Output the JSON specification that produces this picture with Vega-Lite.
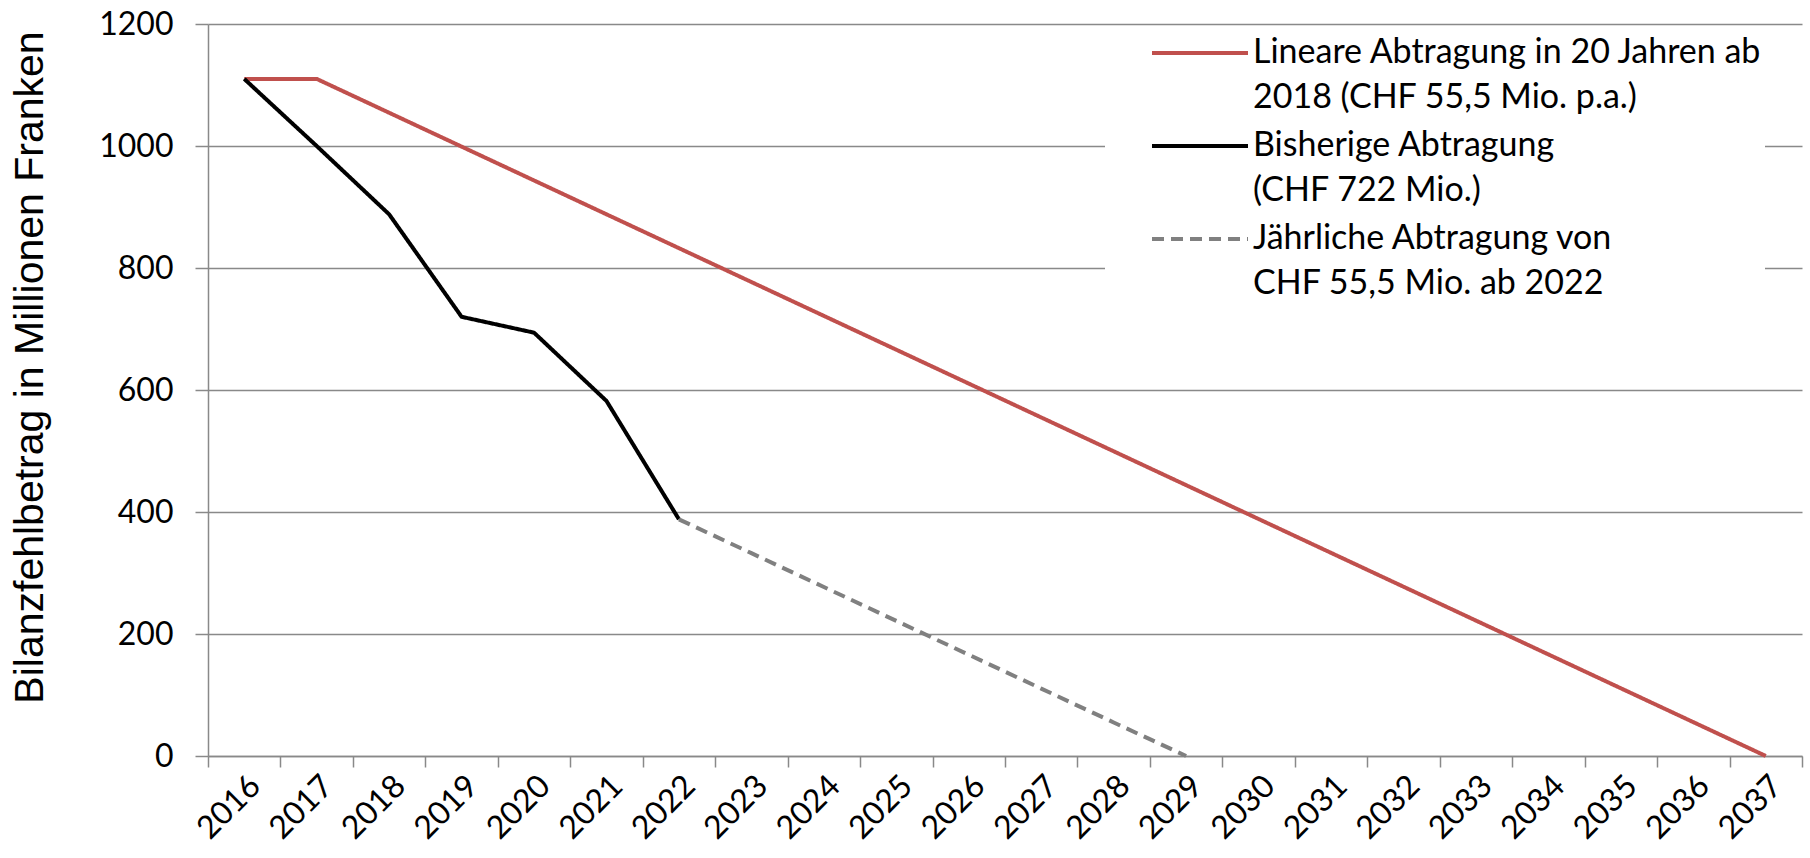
{
  "$schema": "https://vega.github.io/schema/vega-lite/v6.json",
  "width": 1594,
  "height": 732,
  "autosize": {"type": "none"},
  "padding": {"left": 208, "top": 24, "right": 8, "bottom": 102},
  "background": "white",
  "config": {
    "view": {"stroke": null},
    "axis": {"labelFont": "Lato", "labelFontSize": 32, "labelColor": "#000000", "domainColor": "#898989", "tickColor": "#898989", "domainWidth": 1.5, "tickWidth": 1.5, "gridColor": "#898989", "gridWidth": 1.5}
  },
  "data": {
    "values": [
      {"year": "2016", "value": 1110, "series": "S1"},
      {"year": "2017", "value": 1110, "series": "S1"},
      {"year": "2018", "value": 1054.5, "series": "S1"},
      {"year": "2019", "value": 999, "series": "S1"},
      {"year": "2020", "value": 943.5, "series": "S1"},
      {"year": "2021", "value": 888, "series": "S1"},
      {"year": "2022", "value": 832.5, "series": "S1"},
      {"year": "2023", "value": 777, "series": "S1"},
      {"year": "2024", "value": 721.5, "series": "S1"},
      {"year": "2025", "value": 666, "series": "S1"},
      {"year": "2026", "value": 610.5, "series": "S1"},
      {"year": "2027", "value": 555, "series": "S1"},
      {"year": "2028", "value": 499.5, "series": "S1"},
      {"year": "2029", "value": 444, "series": "S1"},
      {"year": "2030", "value": 388.5, "series": "S1"},
      {"year": "2031", "value": 333, "series": "S1"},
      {"year": "2032", "value": 277.5, "series": "S1"},
      {"year": "2033", "value": 222, "series": "S1"},
      {"year": "2034", "value": 166.5, "series": "S1"},
      {"year": "2035", "value": 111, "series": "S1"},
      {"year": "2036", "value": 55.5, "series": "S1"},
      {"year": "2037", "value": 0, "series": "S1"},
      {"year": "2016", "value": 1110, "series": "S2"},
      {"year": "2017", "value": 1000, "series": "S2"},
      {"year": "2018", "value": 888, "series": "S2"},
      {"year": "2019", "value": 720, "series": "S2"},
      {"year": "2020", "value": 694, "series": "S2"},
      {"year": "2021", "value": 582, "series": "S2"},
      {"year": "2022", "value": 388, "series": "S2"},
      {"year": "2022", "value": 388, "series": "S3"},
      {"year": "2023", "value": 332.5, "series": "S3"},
      {"year": "2024", "value": 277, "series": "S3"},
      {"year": "2025", "value": 221.5, "series": "S3"},
      {"year": "2026", "value": 166, "series": "S3"},
      {"year": "2027", "value": 110.5, "series": "S3"},
      {"year": "2028", "value": 55, "series": "S3"},
      {"year": "2029", "value": 0, "series": "S3"}
    ]
  },
  "mark": {"type": "line", "strokeWidth": 4, "strokeJoin": "round"},
  "encoding": {
    "x": {
      "field": "year", "type": "ordinal",
      "scale": {"type": "band", "paddingInner": 0, "paddingOuter": 0},
      "axis": {"title": null, "labelAngle": -45, "tickBand": "extent", "tickSize": 11, "labelPadding": 3, "grid": false}
    },
    "y": {
      "field": "value", "type": "quantitative",
      "scale": {"domain": [0, 1200], "nice": false},
      "axis": {"title": "Bilanzfehlbetrag in Millionen Franken", "titleFont": "Liberation Sans", "titleFontSize": 41, "titleFontWeight": "normal", "titleColor": "#000000", "titlePadding": 47, "titleY": 343, "format": "d", "values": [0, 200, 400, 600, 800, 1000, 1200], "grid": true, "tickSize": 13, "labelPadding": 22}
    },
    "color": {
      "field": "series", "type": "nominal",
      "scale": {"domain": ["S1", "S2", "S3"], "range": ["#C0504D", "#000000", "#808080"]},
      "legend": {
        "title": null, "orient": "none", "legendX": 897, "legendY": 10, "padding": 2, "fillColor": "white",
        "labelExpr": "datum.label == 'S1' ? ['Lineare Abtragung in 20 Jahren ab', '2018 (CHF 55,5 Mio. p.a.)'] : datum.label == 'S2' ? ['Bisherige Abtragung', '(CHF 722 Mio.)'] : ['Jährliche Abtragung von', 'CHF 55,5 Mio. ab 2022']",
        "labelFont": "Lato", "labelFontSize": 34, "labelColor": "#000000", "labelLimit": 800, "labelOffset": 36,
        "symbolType": "M-4,0L4,0", "symbolSize": 576, "symbolStrokeWidth": 4, "symbolOffset": 76, "rowPadding": 14,
        "encode": {"labels": {"update": {"lineHeight": {"value": 45}}}}
      }
    },
    "strokeDash": {
      "field": "series", "type": "nominal",
      "scale": {"domain": ["S1", "S2", "S3"], "range": [[1, 0], [1, 0], [12, 7]]},
      "legend": null
    }
  }
}
